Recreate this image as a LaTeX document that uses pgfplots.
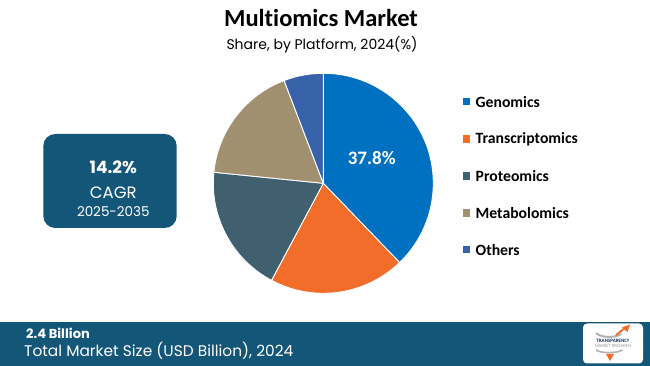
\documentclass[border=0pt]{standalone}
\usepackage{pgfplots}
\pgfplotsset{compat=1.18}
\usepackage{pgfplotstable}
\usepackage{fontspec}
\setmainfont[RawFeature={-liga;-clig;-dlig;-calt}]{Carlito}
\newfontfamily\pop{Poppins}
\definecolor{cGen}{RGB}{0,112,192}
\definecolor{cTra}{RGB}{242,108,42}
\definecolor{cPro}{RGB}{64,96,112}
\definecolor{cMet}{RGB}{160,144,112}
\definecolor{cOth}{RGB}{55,98,170}
\definecolor{cBox}{RGB}{19,86,120}
\definecolor{cNavy}{RGB}{20,50,100}
\pgfplotstableread{
label value
Genomics 37.8
Transcriptomics 20.0
Proteomics 18.8
Metabolomics 17.6
Others 5.8
}\pietable
% cumulative angles from the table
\xdef\angA{90}
\foreach \i/\nm in {0/angB,1/angC,2/angD,3/angE,4/angF}{
  \pgfplotstablegetelem{\i}{value}\of\pietable
  \pgfmathsetmacro{\tmpang}{\angA-3.6*\pgfplotsretval}
  \expandafter\xdef\csname\nm\endcsname{\tmpang}
  \xdef\angA{\tmpang}
}
\xdef\angA{90}
\begin{document}
\begin{tikzpicture}[x=1pt,y=1pt]
\path[use as bounding box, fill=white] (0,0) rectangle (650,366);
% titles
\node[font=\fontsize{24.5}{26}\selectfont\bfseries, anchor=base] at (321,339) {Multiomics Market};
\node[font=\pop\fontsize{14}{16}\selectfont, anchor=base] at (322,316.5) {Share, by Platform, 2024(\%)};
% pie
\begin{axis}[hide axis, x=110pt, y=110pt, xmin=-1, xmax=1, ymin=-1, ymax=1,
  at={(323.3pt,182.7pt)}, anchor=origin, clip=false]
\addplot[draw=none, forget plot] coordinates {(-1,-1) (1,1)};
\fill[cGen, draw=white, line width=0.9pt, line join=round] (axis cs:0,0) -- ++(\angA:110pt) arc[start angle=\angA, end angle=\angB, radius=110pt] -- cycle;
\fill[cTra, draw=white, line width=0.9pt, line join=round] (axis cs:0,0) -- ++(\angB:110pt) arc[start angle=\angB, end angle=\angC, radius=110pt] -- cycle;
\fill[cPro, draw=white, line width=0.9pt, line join=round] (axis cs:0,0) -- ++(\angC:110pt) arc[start angle=\angC, end angle=\angD, radius=110pt] -- cycle;
\fill[cMet, draw=white, line width=0.9pt, line join=round] (axis cs:0,0) -- ++(\angD:110pt) arc[start angle=\angD, end angle=\angE, radius=110pt] -- cycle;
\fill[cOth, draw=white, line width=0.9pt, line join=round] (axis cs:0,0) -- ++(\angE:110pt) arc[start angle=\angE, end angle=\angF, radius=110pt] -- cycle;
\end{axis}
\node[font=\fontsize{19}{22}\selectfont\bfseries, text=white] at (371.7,207.7) {37.8\%};
% legend
\foreach \y/\col/\lab in {264.3/cGen/Genomics,227/cTra/Transcriptomics,190/cPro/Proteomics,153/cMet/Metabolomics,116.3/cOth/Others}{
  \fill[\col] (463,\y-3.7) rectangle (470.4,\y+3.7);
  \node[font=\fontsize{15.7}{17}\selectfont\bfseries, anchor=west, inner sep=0pt] at (475.5,\y) {\lab};
}
% CAGR box
\fill[cBox, rounded corners=12pt] (43.3,138) rectangle (176.7,232);
\node[font=\pop\fontsize{17}{20}\selectfont\bfseries, text=white, anchor=base] at (113.3,192) {14.2\%};
\node[font=\pop\fontsize{16.5}{20}\selectfont, text=white, anchor=base] at (113.3,167.7) {CAGR};
\node[font=\pop\fontsize{13.5}{16}\selectfont, text=white, anchor=base] at (113.3,149.3) {2025-2035};
% bottom band
\fill[cBox] (0,0) rectangle (650,44.3);
\node[font=\pop\fontsize{13}{15}\selectfont\bfseries, text=white, anchor=base west, inner sep=0pt] at (26,27.7) {2.4 Billion};
\node[font=\pop\fontsize{15.4}{18}\selectfont, text=white, anchor=base west, inner sep=0pt] at (24,9.3) {Total Market Size (USD Billion), 2024};
% logo
\fill[white, rounded corners=4pt] (583,2.5) rectangle (643,42.5);
\draw[gray!60, line width=2pt] (596,33) arc[start angle=200, end angle=330, x radius=14pt, y radius=6pt];
\draw[cTra, line width=1.8pt] (616,31) -- (626,39);
\fill[cTra] (630,41.5) -- (627.5,34) -- (622,38.5) -- cycle;
\fill[cTra] (610,5) -- (606,12) -- (614,12) -- cycle;
\draw[gray!60, line width=1.6pt] (596,16) arc[start angle=160, end angle=20, x radius=14pt, y radius=-4pt];
\node[font=\fontsize{5}{5}\selectfont\bfseries, text=cNavy, inner sep=0pt] at (613,25.3) {TRANSPARENCY};
\node[font=\fontsize{4.6}{5}\selectfont, text=gray!80, inner sep=0pt] at (613,20.4) {MARKET RESEARCH};
\end{tikzpicture}
\end{document}
